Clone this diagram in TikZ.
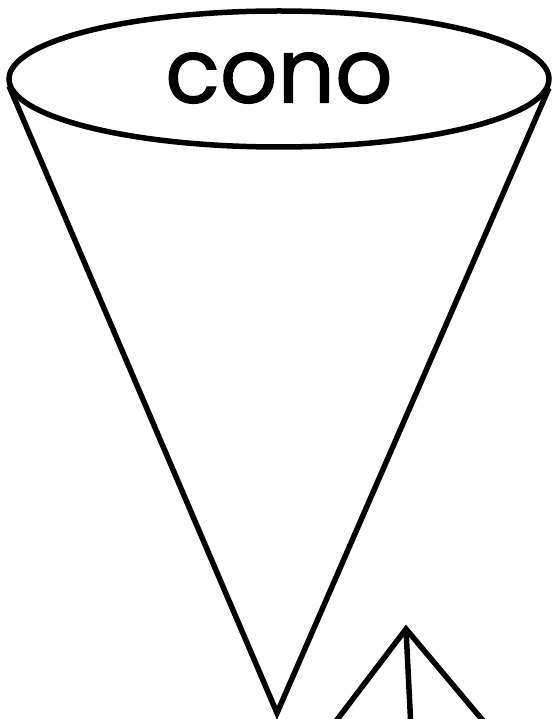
\documentclass[tikz,border=0pt]{standalone}
\usepackage{fontspec}
\newfontfamily\conofont[FakeBold=1.2]{Poppins}
\begin{document}
\begin{tikzpicture}[x=1pt,y=-1pt,
  edge/.style={draw=black,line join=miter,line width=5.5pt}]
\useasboundingbox (0,0) rectangle (552,719);
\clip (0,0) rectangle (552,719);
\coordinate (L) at (9,86);
\coordinate (R) at (549,88);
\coordinate (A) at (277,713);
\draw[edge] (L) -- (A) -- (R);
\draw[fill=white,line width=5.5pt] (279,79) ellipse [x radius=270, y radius=68];
\node (t) at (279,78) {\conofont\fontsize{90}{90}\selectfont cono};
\coordinate (P) at (406,629);
\coordinate (P1) at (330,729);
\coordinate (P2) at (411,729);
\coordinate (P3) at (490,729);
\draw[edge] (P1) -- (P) -- (P3);
\draw[edge] (P) -- (P2);
\end{tikzpicture}
\end{document}
